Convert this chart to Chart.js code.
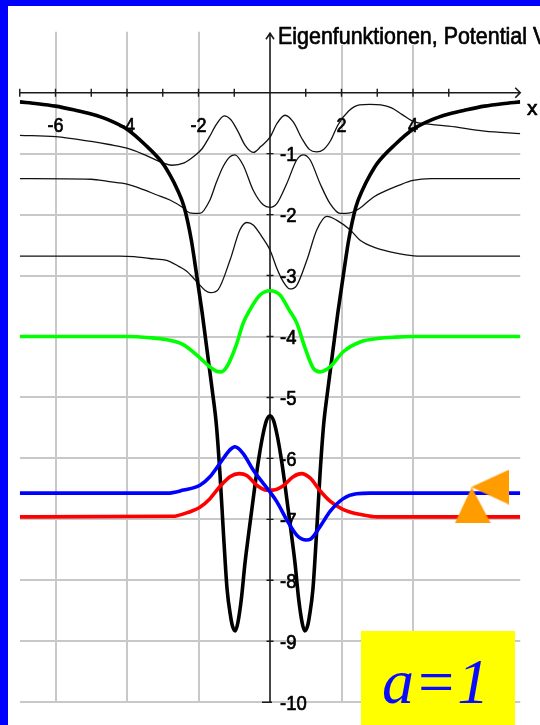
<!DOCTYPE html>
<html><head><meta charset="utf-8">
<script src="https://cdn.jsdelivr.net/npm/chart.js@4.4.0/dist/chart.umd.min.js"></script>
<style>html,body{margin:0;padding:0;background:#fff;overflow:hidden}canvas{display:block}</style>
</head><body>
<canvas id="c" width="540" height="725"></canvas>
<script>
// ---- data ----
const potX = [-7,-6.5,-6,-5.5,-5,-4.5,-4,-3.5,-3,-2.8,-2.6,-2.4,-2.2,-2.1,-2,-1.9,-1.8,-1.7,-1.6,-1.5,-1.4,-1.3,-1.2,-1.1,-1.05,-0.97,-0.9,-0.8,-0.7,-0.6,-0.5,-0.4,-0.3,-0.2,-0.1,0,0.1,0.2,0.3,0.4,0.5,0.6,0.7,0.8,0.9,0.97,1.05,1.1,1.2,1.3,1.4,1.5,1.6,1.7,1.8,1.9,2,2.1,2.2,2.4,2.6,2.8,3,3.5,4,4.5,5,5.5,6,6.5,7];
const potV = [-0.15,-0.18,-0.22,-0.28,-0.35,-0.45,-0.6,-0.85,-1.16,-1.35,-1.58,-1.88,-2.42,-2.8,-3.2,-3.6,-4.05,-4.5,-4.95,-5.45,-6.25,-7.25,-8.15,-8.6,-8.75,-8.83,-8.7,-8.3,-7.72,-7.25,-6.8,-6.35,-5.95,-5.62,-5.38,-5.3,-5.38,-5.62,-5.95,-6.35,-6.8,-7.25,-7.72,-8.3,-8.7,-8.83,-8.75,-8.6,-8.15,-7.25,-6.25,-5.45,-4.95,-4.5,-4.05,-3.6,-3.2,-2.8,-2.42,-1.88,-1.58,-1.35,-1.16,-0.85,-0.6,-0.45,-0.35,-0.28,-0.22,-0.18,-0.15];

const cX = [-7,-6,-5,-4.5,-4,-3.5,-3,-2.75,-2.4,-2.1,-1.9,-1.7,-1.5,-1.28,-1.1,-0.9,-0.7,-0.47,-0.25,0,0.2,0.42,0.65,0.9,1.1,1.3,1.5,1.7,1.9,2.2,2.5,2.8,3.1,3.4,3.7,4,4.5,5,6,7];
const cV = [-0.7,-0.72,-0.8,-0.85,-0.91,-1.02,-1.15,-1.19,-1.15,-1.03,-0.92,-0.73,-0.52,-0.38,-0.44,-0.63,-0.86,-0.98,-0.88,-0.73,-0.5,-0.37,-0.48,-0.76,-0.93,-0.97,-0.93,-0.78,-0.53,-0.3,-0.2,-0.19,-0.2,-0.25,-0.36,-0.47,-0.52,-0.55,-0.63,-0.67];

const bX = [-7,-5,-4.5,-4,-3.5,-3.2,-2.8,-2.45,-2.25,-1.96,-1.68,-1.5,-1.31,-1.12,-0.98,-0.75,-0.47,-0.19,0,0.19,0.47,0.75,0.93,1.12,1.4,1.68,1.96,2.24,2.5,2.9,3.2,3.6,4,4.5,7];
const bV = [-1.41,-1.42,-1.46,-1.5,-1.6,-1.67,-1.76,-1.88,-1.97,-1.98,-1.76,-1.47,-1.21,-1.05,-1.02,-1.19,-1.6,-1.84,-1.88,-1.82,-1.49,-1.1,-1.02,-1.1,-1.49,-1.82,-1.98,-1.97,-1.9,-1.71,-1.62,-1.52,-1.44,-1.41,-1.41];

const aX = [-7,-4.2,-3.8,-3.36,-3,-2.8,-2.55,-2.33,-2.05,-1.82,-1.66,-1.45,-1.12,-0.84,-0.65,-0.47,-0.23,0,0.19,0.37,0.56,0.75,1.03,1.31,1.59,1.86,2.24,2.52,2.98,3.36,3.8,4.2,7];
const aV = [-2.68,-2.68,-2.69,-2.72,-2.74,-2.77,-2.85,-2.93,-3.1,-3.24,-3.28,-3.23,-2.75,-2.25,-2.13,-2.17,-2.36,-2.58,-2.88,-3.1,-3.22,-3.16,-2.75,-2.25,-2.03,-2.09,-2.25,-2.42,-2.55,-2.61,-2.66,-2.68,-2.68];

const gX = [-7,-4,-3.36,-2.92,-2.44,-1.96,-1.68,-1.5,-1.37,-1.19,-0.95,-0.75,-0.56,-0.28,0,0.28,0.53,0.75,0.97,1.21,1.4,1.68,2.05,2.52,3.06,3.5,4,7];
const gV = [-4,-4,-4.02,-4.05,-4.13,-4.35,-4.5,-4.57,-4.58,-4.48,-4.15,-3.78,-3.56,-3.32,-3.25,-3.32,-3.56,-3.78,-4.17,-4.52,-4.58,-4.5,-4.25,-4.09,-4.03,-4.01,-4,-4];

const rX = [-7,-2.7,-2.42,-1.96,-1.68,-1.4,-1.12,-0.86,-0.65,-0.37,-0.09,0.09,0.37,0.65,0.88,1.12,1.4,1.68,2.05,2.61,3,7];
const rV = [-6.96,-6.95,-6.91,-6.8,-6.66,-6.46,-6.3,-6.25,-6.28,-6.44,-6.52,-6.52,-6.45,-6.3,-6.25,-6.32,-6.53,-6.7,-6.84,-6.93,-6.96,-6.96];

const uX = [-7,-2.87,-2.42,-1.96,-1.68,-1.4,-1.12,-0.98,-0.75,-0.47,-0.19,0,0.19,0.47,0.75,1.02,1.12,1.4,1.68,2.05,2.42,2.8,7];
const uV = [-6.57,-6.57,-6.52,-6.44,-6.3,-6.08,-5.86,-5.81,-5.92,-6.19,-6.41,-6.55,-6.71,-7.01,-7.26,-7.34,-7.33,-7.12,-6.87,-6.66,-6.58,-6.57,-6.57];

const markerX = [5.67, 6.16];
const markerY = [-6.77, -6.47];

const xTickVals = [-7,-6,-5,-4,-3,-2,-1,1,2,3,4,5];
const xLabelVals = [-6,-4,-2,2,4];
const xLabels = ['-6','-4','-2','2','4'];
const yTickVals = [-1,-2,-3,-4,-5,-6,-7,-8,-9,-10];
const yLabels = ['-1','-2','-3','-4','-5','-6','-7','-8','-9','-10'];
const xGridVals = [-6,-4,-2,2,4];
const axisTitle = 'Eigenfunktionen, Potential V';
const xTitle = 'x';
const boxText = 'a=1';

// ---- helpers ----
const pts = (xs, vs) => xs.map((x, i) => ({x: x, y: vs[i]}));

function mkTri(w, h, dir) {
  const c = document.createElement('canvas');
  c.width = w; c.height = h;
  const g = c.getContext('2d');
  g.fillStyle = '#ff9c00';
  g.beginPath();
  if (dir === 'up') { g.moveTo(w / 2 - 1, 0); g.lineTo(w, h); g.lineTo(0, h); }
  else { g.moveTo(0, h / 2); g.lineTo(w, 0); g.lineTo(w, h); }
  g.closePath(); g.fill();
  return c;
}
const upTri = mkTri(36, 36, 'up');
const leftTri = mkTri(38, 35, 'left');

const FONT = '"Liberation Sans", Arial, Helvetica, sans-serif';
function condText(ctx, txt, x, y, size, sx, align) {
  ctx.save();
  ctx.font = size + 'px ' + FONT;
  const w = ctx.measureText(txt).width * sx;
  let x0 = x;
  if (align === 'center') x0 = x - w / 2;
  else if (align === 'right') x0 = x - w;
  ctx.translate(x0, y);
  ctx.scale(sx, 1);
  ctx.textAlign = 'left';
  ctx.textBaseline = 'alphabetic';
  ctx.fillStyle = '#000';
  ctx.strokeStyle = '#000';
  ctx.lineWidth = 0.7;
  ctx.lineJoin = 'round';
  ctx.fillText(txt, 0, 0);
  ctx.strokeText(txt, 0, 0);
  ctx.restore();
}

const bgPlugin = {
  id: 'bg',
  beforeDraw(chart) {
    const ctx = chart.ctx;
    ctx.save();
    ctx.fillStyle = '#0000ff';
    ctx.fillRect(0, 0, chart.width, chart.height);
    ctx.fillStyle = '#ffffff';
    ctx.fillRect(8, 6, chart.width - 8, chart.height - 6);
    ctx.restore();
  }
};

const axesPlugin = {
  id: 'axes',
  beforeDatasetsDraw(chart) {
    const ctx = chart.ctx, xs = chart.scales.x, ys = chart.scales.y;
    const x0 = xs.getPixelForValue(0), y0 = ys.getPixelForValue(0);
    const xl = xs.getPixelForValue(-7), xr = xs.getPixelForValue(7);
    const yb = ys.getPixelForValue(-10), yt = ys.getPixelForValue(0.975);
    ctx.save();
    // title background + title
    ctx.fillStyle = '#fff';
    ctx.fillRect(x0 + 6, 20, chart.width - x0 - 6, 25);
    ctx.font = '24.5px ' + FONT;
    const base = ctx.measureText('Eigenfunktionen, Potential ').width;
    condText(ctx, axisTitle, x0 + 8, 44.3, 24.5, 255 / base, 'left');

    ctx.strokeStyle = '#1a1a1a';
    ctx.lineWidth = 1.6;
    ctx.beginPath();
    // x axis
    ctx.moveTo(xl, y0); ctx.lineTo(xr, y0);
    ctx.moveTo(xr - 5, y0 - 5); ctx.lineTo(xr, y0); ctx.lineTo(xr - 5, y0 + 5);
    // y axis
    ctx.moveTo(x0, yb); ctx.lineTo(x0, yt);
    ctx.moveTo(x0 - 4, yt + 6); ctx.lineTo(x0, yt); ctx.lineTo(x0 + 4, yt + 6);
    ctx.stroke();
    ctx.lineWidth = 1.4;
    ctx.beginPath();
    xTickVals.forEach(v => { const p = xs.getPixelForValue(v); ctx.moveTo(p, y0 - 4); ctx.lineTo(p, y0 + 4); });
    yTickVals.forEach(v => {
      const p = ys.getPixelForValue(v);
      if (v === -10) { ctx.moveTo(x0 - 8, p); ctx.lineTo(x0 + 2, p); }
      else { ctx.moveTo(x0 - 3.5, p); ctx.lineTo(x0 + 3.5, p); }
    });
    ctx.stroke();
    ctx.restore();

    xLabelVals.forEach((v, i) => condText(ctx, xLabels[i], xs.getPixelForValue(v), y0 + 38.8, 20.5, 0.88, 'center'));
    yTickVals.forEach((v, i) => condText(ctx, yLabels[i], x0 + 10, ys.getPixelForValue(v) + 7.6, 21, 0.88, 'left'));
    condText(ctx, xTitle, 527, 114.7, 21, 1, 'left');
  },
  afterDraw(chart) {
    const ctx = chart.ctx;
    ctx.save();
    ctx.fillStyle = '#ffff00';
    ctx.fillRect(361, 631, 154, chart.height - 631);
    ctx.fillStyle = '#0a0aff';
    ctx.font = 'italic 64px "Liberation Serif", "Times New Roman", serif';
    ctx.textBaseline = 'alphabetic';
    ctx.textAlign = 'left';
    ctx.fillText(boxText, 382, 702.7);
    ctx.restore();
  }
};

const thin = (xs, vs) => ({data: pts(xs, vs), borderColor: '#111', borderWidth: 1.3, showLine: true, pointRadius: 0, cubicInterpolationMode: 'monotone', fill: false});
const thick = (xs, vs, col, w) => ({data: pts(xs, vs), borderColor: col, borderWidth: w, showLine: true, pointRadius: 0, cubicInterpolationMode: 'monotone', fill: false});

new Chart(document.getElementById('c'), {
  type: 'scatter',
  data: {
    datasets: [
      {data: pts(markerX, markerY), pointStyle: [upTri, leftTri], pointRadius: 5, showLine: false, backgroundColor: '#ff9c00', borderWidth: 0},
      thick(uX, uV, '#0000ff', 3.6),
      thick(rX, rV, '#ff0000', 3.6),
      thick(gX, gV, '#00ff00', 3.6),
      thick(potX, potV, '#000000', 3.6),
      thin(cX, cV),
      thin(bX, bV),
      thin(aX, aV)
    ]
  },
  options: {
    responsive: false,
    animation: false,
    devicePixelRatio: 1,
    events: [],
    layout: {padding: {left: 19.75, right: 19.75, top: 31.75, bottom: 22.8}},
    plugins: {legend: {display: false}, tooltip: {enabled: false}},
    scales: {
      x: {
        type: 'linear', min: -7, max: 7,
        ticks: {display: false, stepSize: 1},
        grid: {drawTicks: false, lineWidth: 2, color: c => xGridVals.includes(c.tick.value) ? '#c8c8c8' : 'rgba(0,0,0,0)'},
        border: {display: false},
        afterFit(s) { s.height = 0; }
      },
      y: {
        type: 'linear', min: -10, max: 1,
        ticks: {display: false, stepSize: 1},
        grid: {drawTicks: false, lineWidth: 2, color: c => c.tick.value <= -1 ? '#c8c8c8' : 'rgba(0,0,0,0)'},
        border: {display: false},
        afterFit(s) { s.width = 0; }
      }
    }
  },
  plugins: [bgPlugin, axesPlugin]
});
</script>
</body></html>
